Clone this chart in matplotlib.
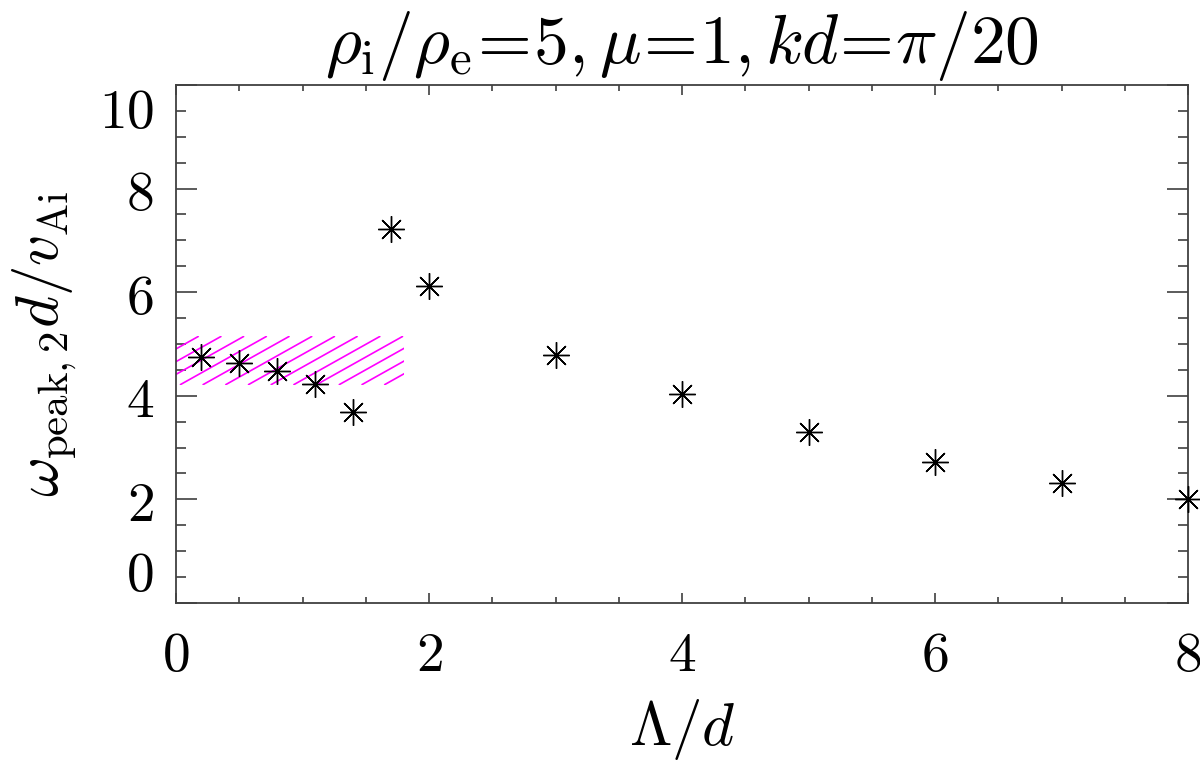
import numpy as np
import matplotlib.pyplot as plt
from matplotlib.collections import LineCollection
from matplotlib.patches import Rectangle

plt.rcParams['mathtext.fontset'] = 'cm'
plt.rcParams['font.family'] = 'serif'

# data
lam = [0.2, 0.5, 0.8, 1.1, 1.4, 1.7, 2.0, 3.0, 4.0, 5.0, 6.0, 7.0, 8.0]
omega = [4.74, 4.64, 4.47, 4.23, 3.69, 7.22, 6.12, 4.79, 4.03, 3.30, 2.72, 2.32, 2.0]

# hatched band (x range, y range)
band_x = [0.0, 1.8]
band_y = [4.21, 5.15]

xticks = [0, 2, 4, 6, 8]
yticks = [0, 2, 4, 6, 8, 10]

fig = plt.figure(figsize=(12, 7.62), dpi=100)
ax = fig.add_axes([0.1467, 0.2087, 0.8433, 0.6798])
ax.set_xlim(0, 8)
ax.set_ylim(0, 10)

spine_col = '#404040'
for s in ax.spines.values():
    s.set_color(spine_col)
    s.set_linewidth(1.3)

ax.set_xticks(xticks)
ax.set_yticks(yticks)
ax.set_xticks(np.arange(0, 8.01, 0.5), minor=True)
ax.set_yticks(np.arange(0, 10.01, 0.5), minor=True)
ax.set_xticklabels(['$%d$' % v for v in xticks])
ax.set_yticklabels(['$%d$' % v for v in yticks])
ax.tick_params(axis='both', which='both', direction='in', top=True, right=True,
               color=spine_col, labelsize=40)
ax.tick_params(axis='x', which='major', length=7.5, width=1.2, pad=18)
ax.tick_params(axis='x', which='minor', length=4, width=1.2)
ax.tick_params(axis='y', which='major', length=15, width=1.2, pad=16)
ax.tick_params(axis='y', which='minor', length=7.5, width=1.2)
ylabs = ax.get_yticklabels()
ylabs[0].set_va('bottom')
ylabs[-1].set_va('top')

# hatch lines at a shallow angle, clipped to the band
p0 = ax.transData.transform((band_x[0], band_y[0]))
p1 = ax.transData.transform((band_x[1], band_y[1]))
H = p1[1] - p0[1]
slope = 0.56
step = 22.7
segs = []
for xs in np.arange(p0[0] - H / slope, p1[0] + step, step):
    a = ax.transData.inverted().transform((xs, p0[1]))
    b = ax.transData.inverted().transform((xs + H / slope, p1[1]))
    segs.append([a, b])
clip = Rectangle((band_x[0], band_y[0]), band_x[1] - band_x[0], band_y[1] - band_y[0],
                 transform=ax.transData, fill=False, edgecolor='none')
ax.add_patch(clip)
lc = LineCollection(segs, colors='#ff00ff', linewidths=1.2)
ax.add_collection(lc)
lc.set_clip_path(clip)

ax.plot(lam, omega, linestyle='none', marker=(8, 2, 0), markersize=19,
        markeredgewidth=1.0, color='black', clip_on=False, zorder=5)

ax.set_title(r'$\rho_{\rm i}/\rho_{\rm e}\!=\!5, \mu\!=\!1, kd\!=\!\pi/20$',
             fontsize=50, pad=16)
ax.set_xlabel(r'$\Lambda/d$', fontsize=44, labelpad=10)
ax.set_ylabel(r'$\omega_{\rm peak,2}d/v_{\rm Ai}$', fontsize=44, labelpad=14)

fig.savefig('out.png', dpi=100)
